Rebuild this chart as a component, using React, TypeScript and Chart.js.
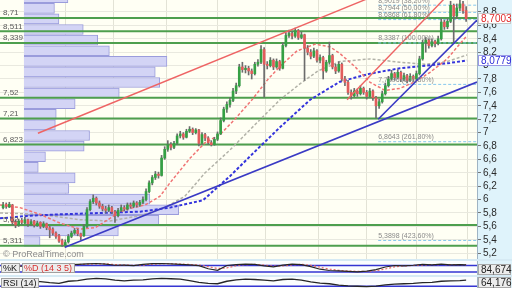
import React, { useEffect, useRef } from 'react';
import { Chart, registerables } from 'chart.js';

Chart.register(...registerables);

// ---------------- DATA ----------------
const opens = [
  5.88, 5.93, 5.89, 5.92, 5.67, 5.62, 5.69, 5.65, 5.70, 5.63,
  5.68, 5.61, 5.66, 5.60, 5.64, 5.58, 5.56, 5.50, 5.46, 5.39,
  5.32, 5.37, 5.45, 5.50, 5.54, 5.49, 5.46, 5.60, 5.85, 5.97,
  6.02, 5.95, 5.90, 5.86, 5.84, 5.88, 5.82, 5.76, 5.84, 5.88,
  5.86, 5.92, 5.90, 5.95, 5.92, 5.96, 6.00, 6.12, 6.25, 6.33,
  6.38, 6.36, 6.62, 6.75, 6.82, 6.78, 6.84, 6.95, 6.98, 6.93,
  7.02, 7.05, 7.00, 7.04, 6.84, 6.97, 6.92, 6.85, 6.82, 6.90,
  6.98, 7.18, 7.35, 7.42, 7.48, 7.62, 7.70, 7.98, 7.94, 7.96,
  7.92, 7.88, 8.02, 8.05, 8.24, 8.02, 8.00, 8.08, 7.98, 8.06,
  7.96, 8.30, 8.45, 8.48, 8.44, 8.52, 8.42, 8.46, 8.26, 8.20,
  8.14, 8.22, 8.08, 8.12, 7.92, 8.05, 8.15, 7.98, 7.92, 8.02,
  7.80, 7.75, 7.60, 7.55, 7.62, 7.58, 7.66, 7.60, 7.54, 7.62,
  7.52, 7.40, 7.46, 7.58, 7.70, 7.80, 7.88, 7.82, 7.90, 7.80,
  7.85, 7.78, 7.84, 7.80, 7.88, 8.10, 8.34, 8.38, 8.30, 8.36,
  8.33, 8.40, 8.65, 8.58, 8.66, 8.90, 8.74, 8.86, 8.92, 8.82,
];
const highs = [
  5.96, 5.95, 5.96, 5.93, 5.70, 5.71, 5.72, 5.74, 5.71, 5.70,
  5.69, 5.68, 5.67, 5.67, 5.65, 5.60, 5.58, 5.52, 5.48, 5.41,
  5.40, 5.48, 5.53, 5.57, 5.56, 5.50, 5.63, 5.88, 6.00, 6.07,
  6.04, 5.98, 5.93, 5.90, 5.92, 5.90, 5.84, 5.87, 5.92, 5.91,
  5.95, 5.95, 5.98, 5.97, 5.99, 6.04, 6.16, 6.28, 6.36, 6.42,
  6.41, 6.66, 6.79, 6.88, 6.85, 6.87, 6.98, 7.02, 7.00, 7.05,
  7.09, 7.07, 7.06, 7.05, 7.00, 6.99, 6.94, 6.88, 6.93, 7.01,
  7.22, 7.38, 7.46, 7.52, 7.66, 7.74, 8.02, 8.05, 8.00, 7.99,
  7.95, 8.05, 8.09, 8.30, 8.27, 8.06, 8.12, 8.10, 8.10, 8.08,
  8.34, 8.49, 8.53, 8.51, 8.56, 8.54, 8.50, 8.47, 8.30, 8.24,
  8.26, 8.24, 8.16, 8.14, 8.08, 8.35, 8.17, 8.02, 8.06, 8.04,
  7.84, 7.78, 7.64, 7.66, 7.65, 7.70, 7.68, 7.63, 7.66, 7.64,
  7.54, 7.50, 7.62, 7.74, 7.84, 7.93, 7.90, 7.94, 7.92, 7.89,
  7.87, 7.88, 7.86, 7.92, 8.14, 8.38, 8.42, 8.40, 8.40, 8.38,
  8.44, 8.70, 8.68, 8.70, 8.96, 8.92, 8.92, 8.98, 8.96, 8.88,
];
const lows = [
  5.86, 5.87, 5.88, 5.62, 5.58, 5.60, 5.63, 5.64, 5.60, 5.61,
  5.59, 5.60, 5.57, 5.58, 5.55, 5.43, 5.47, 5.42, 5.36, 5.30,
  5.29, 5.35, 5.43, 5.48, 5.46, 5.40, 5.45, 5.58, 5.83, 5.94,
  5.92, 5.87, 5.83, 5.80, 5.82, 5.79, 5.66, 5.74, 5.82, 5.83,
  5.84, 5.87, 5.88, 5.89, 5.90, 5.94, 5.98, 6.10, 6.22, 6.30,
  6.32, 6.35, 6.60, 6.72, 6.74, 6.76, 6.82, 6.92, 6.90, 6.92,
  7.00, 6.97, 6.98, 6.80, 6.82, 6.88, 6.82, 6.80, 6.81, 6.88,
  6.97, 7.16, 7.30, 7.38, 7.46, 7.58, 7.68, 7.90, 7.89, 7.86,
  7.80, 7.86, 7.99, 8.03, 7.53, 7.95, 7.98, 7.94, 7.96, 7.93,
  7.95, 8.28, 8.42, 8.40, 8.42, 8.39, 8.40, 7.78, 8.16, 8.10,
  8.12, 8.05, 8.04, 7.80, 7.90, 8.02, 7.95, 7.88, 7.90, 7.77,
  7.70, 7.57, 7.50, 7.53, 7.54, 7.56, 7.57, 7.50, 7.52, 7.48,
  7.22, 7.36, 7.44, 7.56, 7.68, 7.78, 7.78, 7.80, 7.76, 7.77,
  7.74, 7.76, 7.76, 7.78, 7.86, 8.08, 8.20, 8.26, 8.28, 8.28,
  8.31, 8.38, 8.54, 8.55, 8.64, 8.33, 8.70, 8.82, 8.78, 8.66,
];
const closes = [
  5.92, 5.90, 5.93, 5.66, 5.62, 5.68, 5.66, 5.70, 5.64, 5.67,
  5.62, 5.65, 5.60, 5.64, 5.58, 5.55, 5.50, 5.45, 5.38, 5.33,
  5.36, 5.45, 5.50, 5.54, 5.49, 5.45, 5.60, 5.85, 5.97, 6.02,
  5.95, 5.90, 5.86, 5.84, 5.88, 5.82, 5.76, 5.84, 5.88, 5.86,
  5.92, 5.90, 5.95, 5.92, 5.96, 6.00, 6.12, 6.25, 6.33, 6.38,
  6.36, 6.62, 6.75, 6.82, 6.78, 6.84, 6.95, 6.98, 6.93, 7.02,
  7.05, 7.00, 7.04, 6.84, 6.97, 6.92, 6.85, 6.82, 6.90, 6.98,
  7.18, 7.35, 7.42, 7.48, 7.62, 7.70, 7.98, 7.94, 7.96, 7.92,
  7.88, 8.02, 8.05, 8.24, 8.02, 8.00, 8.08, 7.98, 8.06, 7.96,
  8.30, 8.45, 8.48, 8.44, 8.52, 8.42, 8.46, 8.26, 8.20, 8.14,
  8.22, 8.08, 8.12, 7.92, 8.05, 8.15, 7.98, 7.92, 8.02, 7.80,
  7.75, 7.60, 7.55, 7.62, 7.58, 7.66, 7.60, 7.54, 7.62, 7.52,
  7.40, 7.46, 7.58, 7.70, 7.80, 7.88, 7.82, 7.90, 7.80, 7.85,
  7.78, 7.84, 7.80, 7.88, 8.10, 8.34, 8.38, 8.30, 8.36, 8.33,
  8.40, 8.65, 8.58, 8.66, 8.90, 8.74, 8.86, 8.92, 8.82, 8.7003,
];

const priceTicks = [5.2, 5.4, 5.6, 5.8, 6, 6.2, 6.4, 6.6, 6.8, 7, 7.2, 7.4, 7.6, 7.8, 8, 8.2, 8.4, 8.6, 8.8];
const monthGridIdx = [20, 35.5, 52.5, 69, 84.5, 101.5, 117, 133, 149.5];

// volume profile (price bins / volume)
const vpPrices = [
  9.013, 8.855, 8.697, 8.539, 8.381, 8.222, 8.064, 7.906, 7.748, 7.590, 7.431, 7.273,
  7.115, 6.957, 6.799, 6.640, 6.482, 6.324, 6.166, 6.007, 5.849, 5.691, 5.533, 5.375,
];
const vpVolumes = [
  49, 34, 39, 66, 82, 95, 159, 146, 151, 106, 57, 36,
  35, 73, 67, 24, 16, 57, 50, 140, 172, 150, 105, 18,
];

// support / resistance levels (volume nodes)
const levelPrices = [8.71, 8.511, 8.339, 7.52, 7.21, 6.823, 5.62, 5.311];

// Fibonacci extension levels
const fibPrices = [8.9019, 8.7944, 8.6868, 8.3387, 7.7196, 6.8643, 5.3898];
const fibPercents = [38.2, 50, 61.8, 100, 161.8, 261.8, 423.6];
const fibStartIdx = 120.7;

// moving averages (sparse readings)
const maFastIdx = [-1, 5.4, 11.9, 18.3, 24.7, 29.6, 34.4, 39.2, 45.7, 50.5, 53.7, 60.2, 65, 69.8, 74.6, 80.1, 85.3, 89.8, 94.6, 100.4, 105.2, 108.4, 113.3, 118.1, 122.9, 127.7, 132.6, 137.4, 142.9, 149.3];
const maFastVal = [5.92, 5.88, 5.78, 5.65, 5.56, 5.58, 5.72, 5.85, 5.92, 6.05, 6.25, 6.62, 6.85, 6.97, 7.2, 7.49, 7.8, 8.02, 8.22, 8.32, 8.28, 8.18, 7.98, 7.75, 7.63, 7.66, 7.76, 7.9, 8.1, 8.45];
const maMidIdx = [-1, 11.9, 24.7, 34.4, 44.1, 52.1, 58.5, 65, 73, 81.1, 89.1, 95.6, 101.3, 108.4, 118.1, 127.7, 135.8, 142.9, 149.3];
const maMidVal = [5.8, 5.78, 5.7, 5.68, 5.76, 5.88, 6.05, 6.4, 6.74, 7.12, 7.49, 7.73, 7.92, 8.06, 8.1, 8.05, 8.02, 8.06, 8.16];
const maSlowIdx = [-1, 8.7, 18.3, 31.2, 44.1, 53.7, 64.3, 73, 81.1, 89.1, 98.8, 108.4, 118.1, 127.7, 136.4, 143.8, 149.3];
const maSlowVal = [5.72, 5.76, 5.78, 5.8, 5.82, 5.88, 5.99, 6.35, 6.72, 7.08, 7.49, 7.76, 7.88, 7.96, 8.0, 8.04, 8.0779];

// trend lines (two end points each)
const trendBlueLongIdx = [19.9, 152.5];
const trendBlueLongVal = [5.29, 7.755];
const trendRedLongIdx = [11.2, 130];
const trendRedLongVal = [6.99, 9.24];
const trendBlueSteepIdx = [120.7, 152.5];
const trendBlueSteepVal = [7.2, 8.68];
const trendRedSteepIdx = [110.7, 147];
const trendRedSteepVal = [7.49, 9.24];

// oscillators
const oscIdx = [0, 3, 6, 9, 12, 15, 18, 21, 24, 27, 30, 33, 36, 39, 42, 45, 48, 51, 54, 57, 60, 63, 66, 69, 72, 75, 78, 81, 84, 87, 90, 93, 96, 99, 102, 105, 108, 111, 114, 117, 120, 123, 126, 129, 132, 135, 138, 141, 144, 147, 149];
const stochK = [88, 79, 73, 78, 84, 78, 84, 88, 91, 95, 98, 92, 82, 83, 79, 90, 97, 98, 95, 90, 86, 78, 50, 36, 80, 88, 92, 90, 76, 68, 84, 92, 88, 70, 46, 34, 30, 26, 22, 28, 42, 66, 80, 76, 82, 90, 86, 92, 86, 88, 84.674];
const stochD = [84, 80, 76, 75, 79, 80, 81, 85, 88, 92, 95, 95, 88, 84, 81, 84, 92, 96, 96, 93, 89, 84, 70, 52, 58, 78, 88, 90, 84, 74, 76, 86, 90, 82, 64, 46, 36, 30, 26, 25, 32, 48, 68, 76, 80, 84, 88, 89, 88, 87, 86];
const stochLevels = [80, 20];
const rsiVals = [60, 52, 55, 58, 56, 50, 46, 58, 62, 70, 74, 72, 64, 60, 64, 66, 72, 74, 72, 70, 62, 52, 46, 44, 58, 66, 70, 68, 64, 60, 68, 70, 64, 54, 48, 44, 36, 32, 30, 28, 30, 38, 42, 44, 46, 50, 52, 58, 60, 62, 64.176];
const rsiLevels = [30];

// ---------------- STYLE ----------------
const FONT = '"Liberation Sans", Arial, sans-serif';
const X_MIN = -1;
const X_MAX = 152.5;
const Y_MIN = 5.1134;
const Y_MAX = 8.9791;
const AXIS_BG = '#dff3fb';
const PLOT_BG = '#fffff4';

Chart.defaults.font.family = FONT;

const fmt = (v: number, d?: number) => (d === undefined ? String(v) : v.toFixed(d)).replace('.', ',');

function lineDS(xs: number[], ys: number[], color: string, width: number, dash: number[], order: number) {
  return {
    type: 'line',
    data: xs.map((x, i) => ({ x, y: ys[i] })),
    borderColor: color,
    borderWidth: width,
    borderDash: dash,
    pointRadius: 0,
    fill: false,
    tension: 0,
    order,
    xAxisID: 'x',
    yAxisID: 'y',
  };
}

function valueBox(ctx: any, x0: number, x1: number, yc: number, text: string, color: string, border: string, bg: string) {
  const top = Math.round(yc - 5.5);
  ctx.fillStyle = bg;
  ctx.fillRect(x0, top, x1 - x0, 11);
  ctx.strokeStyle = border;
  ctx.lineWidth = 1;
  ctx.strokeRect(x0 + 0.5, top + 0.5, x1 - x0 - 1, 10);
  ctx.fillStyle = color;
  ctx.font = `10px ${FONT}`;
  ctx.textAlign = 'left';
  ctx.textBaseline = 'middle';
  ctx.fillText(text, x0 + 3, top + 6);
}

function tag(ctx: any, x: number, y: number, text: string, color: string) {
  ctx.font = `9px ${FONT}`;
  const w = Math.ceil(ctx.measureText(text).width) + 4;
  ctx.fillStyle = '#ececec';
  ctx.fillRect(x, y, w, 10);
  ctx.strokeStyle = '#a0a0a0';
  ctx.lineWidth = 1;
  ctx.strokeRect(x + 0.5, y + 0.5, w - 1, 9);
  ctx.fillStyle = color;
  ctx.textAlign = 'left';
  ctx.textBaseline = 'middle';
  ctx.fillText(text, x + 2, y + 5.5);
  return x + w;
}

const mainPlugin = {
  id: 'mainDecor',
  beforeDraw(chart: any) {
    const { ctx, chartArea: a, width, height } = chart;
    ctx.save();
    ctx.fillStyle = AXIS_BG;
    ctx.fillRect(0, 0, width, height);
    ctx.fillStyle = PLOT_BG;
    ctx.fillRect(a.left, a.top, a.right - a.left, a.bottom - a.top);
    ctx.restore();
  },
  afterDatasetsDraw(chart: any) {
    const { ctx, chartArea: a } = chart;
    const xs = chart.scales.x;
    const ys = chart.scales.y;
    ctx.save();
    ctx.textAlign = 'left';
    ctx.textBaseline = 'bottom';
    ctx.font = `8px ${FONT}`;
    ctx.fillStyle = '#5a5a5a';
    levelPrices.forEach((p) => ctx.fillText(fmt(p), 3, ys.getPixelForValue(p) - 1));
    ctx.font = `7px ${FONT}`;
    ctx.fillStyle = '#8a8a8a';
    const fx = xs.getPixelForValue(fibStartIdx);
    fibPrices.forEach((p, i) => {
      ctx.fillText(`${fmt(p, 4)} (${fmt(fibPercents[i], 2)}%)`, fx, ys.getPixelForValue(p) - 1);
    });
    ctx.font = `9px ${FONT}`;
    ctx.fillStyle = '#8c8c8c';
    ctx.fillText('© ProRealTime.com', 3, a.bottom);
    ctx.restore();
  },
  afterDraw(chart: any) {
    const { ctx, chartArea: a, width } = chart;
    const ys = chart.scales.y;
    ctx.save();
    const last = closes[closes.length - 1];
    const maLast = maSlowVal[maSlowVal.length - 1];
    valueBox(ctx, a.right + 1, width - 1, ys.getPixelForValue(last), fmt(last, 4), '#e02a2a', '#c8c8c8', '#ffffff');
    valueBox(ctx, a.right + 1, width - 1, ys.getPixelForValue(maLast), fmt(maLast, 4), '#2a2ad8', '#9a9ae6', '#ffffff');
    ctx.restore();
  },
};

function mainConfig(): any {
  const idx = closes.map((_, i) => i);
  const datasets: any[] = [
    {
      type: 'bar',
      indexAxis: 'y',
      xAxisID: 'xv',
      yAxisID: 'y',
      data: vpPrices.map((p, i) => ({ x: vpVolumes[i], y: p })),
      backgroundColor: '#d3d4f5',
      borderColor: '#9a9cdc',
      borderWidth: 1,
      barThickness: 10,
      grouped: false,
      order: 30,
    },
    ...levelPrices.map((p) => lineDS([X_MIN, X_MAX], [p, p], '#4e9f4e', 2, [], 25)),
    ...fibPrices.map((p) => lineDS([fibStartIdx, X_MAX], [p, p], '#86c8ee', 1, [3, 2], 24)),
    lineDS(maSlowIdx, maSlowVal, '#3434dc', 2, [3, 2], 20),
    lineDS(maMidIdx, maMidVal, '#b2b2a8', 1.5, [3, 2], 21),
    lineDS(maFastIdx, maFastVal, '#f07474', 1.5, [3, 2], 19),
    {
      type: 'bar',
      xAxisID: 'x',
      yAxisID: 'y',
      data: idx.map((i) => ({ x: i, y: [lows[i], highs[i]] })),
      backgroundColor: '#6c6c6c',
      barThickness: 1,
      grouped: false,
      order: 10,
    },
    {
      type: 'bar',
      xAxisID: 'x',
      yAxisID: 'y',
      data: idx.map((i) => ({ x: i, y: [opens[i], closes[i]] })),
      backgroundColor: idx.map((i) => (closes[i] >= opens[i] ? '#35a044' : '#e25c5c')),
      barThickness: 2,
      minBarLength: 1,
      grouped: false,
      order: 9,
    },
    lineDS(trendBlueLongIdx, trendBlueLongVal, '#3a3ac4', 1.6, [], 2),
    lineDS(trendRedLongIdx, trendRedLongVal, '#ee6464', 1.4, [], 2),
    lineDS(trendBlueSteepIdx, trendBlueSteepVal, '#3a3ac4', 1.6, [], 2),
    lineDS(trendRedSteepIdx, trendRedSteepVal, '#ee6464', 1.4, [], 2),
  ];
  return {
    type: 'bar',
    data: { datasets },
    options: {
      responsive: false,
      animation: false,
      events: [],
      layout: { padding: 0 },
      plugins: { legend: { display: false }, tooltip: { enabled: false } },
      scales: {
        x: {
          type: 'linear',
          min: X_MIN,
          max: X_MAX,
          offset: false,
          grid: { color: '#e3e3d6', lineWidth: 1, drawTicks: false, offset: false },
          border: { display: false },
          ticks: { display: false },
          afterBuildTicks: (s: any) => {
            s.ticks = monthGridIdx.map((v) => ({ value: v }));
          },
          afterFit: (s: any) => {
            s.height = 0;
            s.paddingLeft = 0;
            s.paddingRight = 0;
          },
        },
        xv: { type: 'linear', position: 'top', min: 0, max: 477, display: false },
        y: {
          type: 'linear',
          position: 'right',
          min: Y_MIN,
          max: Y_MAX,
          offset: false,
          grid: { color: '#e9e9df', tickColor: '#777', tickLength: 4, offset: false },
          border: { display: true, color: '#9fb4c4' },
          ticks: {
            autoSkip: false,
            font: { size: 10, family: FONT },
            color: '#2a2a2a',
            padding: 2,
            callback: (v: any) => fmt(Math.round(Number(v) * 10) / 10),
          },
          afterBuildTicks: (s: any) => {
            s.ticks = priceTicks.map((v) => ({ value: v }));
          },
          afterFit: (s: any) => {
            s.width = 35;
            s.paddingTop = 0;
            s.paddingBottom = 0;
          },
        },
      },
    },
    plugins: [mainPlugin],
  };
}

function subConfig(datasets: any[], yMin: number, yMax: number, tags: [string, string][], valueText: string, boxTop: (h: number) => number): any {
  const plugin = {
    id: 'subDecor',
    beforeDraw(chart: any) {
      const { ctx, chartArea: a, width, height } = chart;
      ctx.save();
      ctx.fillStyle = AXIS_BG;
      ctx.fillRect(0, 0, width, height);
      ctx.fillStyle = '#fbfdfe';
      ctx.fillRect(a.left, a.top, a.right - a.left, a.bottom - a.top);
      ctx.restore();
    },
    afterDraw(chart: any) {
      const { ctx, chartArea: a, width, height } = chart;
      ctx.save();
      let x = 1;
      const ty = Math.max(0, Math.round((height - 10) / 2));
      tags.forEach(([t, c]) => {
        x = tag(ctx, x, ty, t, c) + 2;
      });
      valueBox(ctx, a.right + 1, width - 1, boxTop(height) + 5.5, valueText, '#222', '#a8a8a8', '#ececec');
      ctx.restore();
    },
  };
  return {
    type: 'line',
    data: { datasets },
    options: {
      responsive: false,
      animation: false,
      events: [],
      layout: { padding: 0 },
      plugins: { legend: { display: false }, tooltip: { enabled: false } },
      scales: {
        x: { type: 'linear', min: X_MIN, max: X_MAX, display: false },
        y: {
          type: 'linear',
          position: 'right',
          min: yMin,
          max: yMax,
          grid: { display: false, drawTicks: false },
          border: { display: true, color: '#9fb4c4' },
          ticks: { display: false },
          afterFit: (s: any) => {
            s.width = 35;
            s.paddingTop = 0;
            s.paddingBottom = 0;
          },
        },
      },
    },
    plugins: [plugin],
  };
}

function stochConfig(): any {
  const ds = [
    ...stochLevels.map((l) => lineDS([X_MIN, X_MAX], [l, l], '#3535d2', 1.5, [], 5)),
    lineDS(oscIdx, stochD, '#e86a6a', 1.2, [2, 2], 2),
    lineDS(oscIdx, stochK, '#262626', 1.2, [], 1),
  ];
  return subConfig(ds, -7, 121, [['%K', '#111'], ['%D (14 3 5)', '#d83030']], fmt(stochK[stochK.length - 1], 3), (h) => h - 11);
}

function rsiConfig(): any {
  const ds = [
    ...rsiLevels.map((l) => lineDS([X_MIN, X_MAX], [l, l], '#3535d2', 1.5, [], 5)),
    lineDS(oscIdx, rsiVals, '#262626', 1.3, [], 1),
  ];
  return subConfig(ds, 20, 82, [['RSI (14)', '#111']], fmt(rsiVals[rsiVals.length - 1], 3), () => 0);
}

export default function App() {
  const mainRef = useRef<HTMLCanvasElement>(null);
  const stochRef = useRef<HTMLCanvasElement>(null);
  const rsiRef = useRef<HTMLCanvasElement>(null);

  useEffect(() => {
    const charts: Chart[] = [];
    if (mainRef.current) charts.push(new Chart(mainRef.current, mainConfig()));
    if (stochRef.current) charts.push(new Chart(stochRef.current, stochConfig()));
    if (rsiRef.current) charts.push(new Chart(rsiRef.current, rsiConfig()));
    return () => charts.forEach((c) => c.destroy());
  }, []);

  return (
    <div style={{ position: 'fixed', left: 0, top: 0, width: 512, height: 288, background: '#d6eaf4', overflow: 'hidden' }}>
      <canvas ref={mainRef} width={512} height={259} style={{ position: 'absolute', left: 0, top: 0 }} />
      <canvas ref={stochRef} width={512} height={14} style={{ position: 'absolute', left: 0, top: 261 }} />
      <canvas ref={rsiRef} width={512} height={11} style={{ position: 'absolute', left: 0, top: 277 }} />
    </div>
  );
}
